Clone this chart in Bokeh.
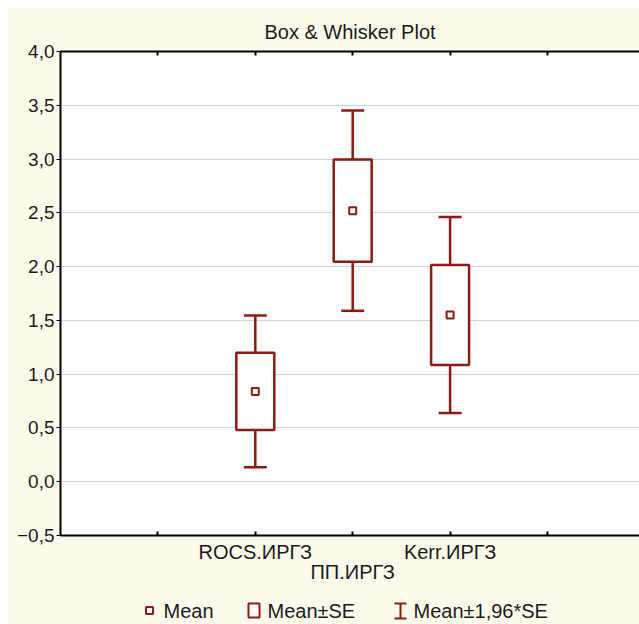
import numpy as np
from bokeh.plotting import figure
from bokeh.models import Range1d, LinearAxis, FixedTicker, Grid, Title
from bokeh.layouts import column
from bokeh.embed import file_html
from bokeh.resources import INLINE
from bokeh.core.properties import value

# ---- data ----
categories = ["ROCS.ИРГЗ", "ПП.ИРГЗ", "Kerr.ИРГЗ"]
means = [0.84, 2.52, 1.55]
se = [0.36, 0.475, 0.465]
y_ticks = [-0.5, 0.0, 0.5, 1.0, 1.5, 2.0, 2.5, 3.0, 3.5, 4.0]
y_tick_labels = ["−0,5", "0,0", "0,5", "1,0", "1,5", "2,0", "2,5", "3,0", "3,5", "4,0"]
x_ticks = [1, 2, 3, 4, 5]
legend_labels = ["Mean", "Mean±SE", "Mean±1,96*SE"]
title_text = "Box & Whisker Plot"

# ---- style ----
RED = "#8C1B12"
CREAM = "#FEFBEC"
FONT = "Liberation Sans"
TXT = "#1a1a1a"
W = 631
H_MAIN = 584
H_LEG = 32
FL = 52            # frame left
FRAME_TOP = 43
FRAME_BOTTOM = 527
PX_X = 97.4        # pixels per x unit

x = np.arange(len(categories)) + 2.0
m = np.array(means)
s = np.array(se)
se_hi, se_lo = m + s, m - s
ci_hi, ci_lo = m + 1.96 * s, m - 1.96 * s

xr = Range1d(0, (W - FL) / PX_X)
p = figure(width=W, height=H_MAIN, x_range=xr, y_range=Range1d(-0.5, 4.0),
           x_axis_type=None, y_axis_type=None,
           output_backend="svg", toolbar_location=None,
           min_border_left=FL, min_border_right=0,
           min_border_top=FRAME_TOP, min_border_bottom=H_MAIN - FRAME_BOTTOM,
           background_fill_color="white", border_fill_color=CREAM,
           outline_line_color=None)

yt = FixedTicker(ticks=y_ticks)
left = LinearAxis(ticker=yt,
                  major_label_overrides={t: l for t, l in zip(y_ticks, y_tick_labels)},
                  major_tick_in=0, major_tick_out=4, minor_tick_out=0, minor_tick_in=0,
                  axis_line_width=2, axis_line_color="black",
                  major_tick_line_color="black", major_tick_line_width=1,
                  major_label_text_font=FONT, major_label_text_font_size="19px",
                  major_label_text_color=TXT, major_label_standoff=2)
p.add_layout(left, "left")

top = LinearAxis(ticker=FixedTicker(ticks=x_ticks),
                 major_label_overrides={t: "" for t in x_ticks},
                 major_label_text_font_size="0px", major_label_standoff=0,
                 major_tick_in=4, major_tick_out=0, minor_tick_in=0, minor_tick_out=0,
                 axis_line_width=2, axis_line_color="black",
                 major_tick_line_color="black", major_tick_line_width=2)
p.add_layout(top, "above")

# bottom axis: staggered rows of category labels
row1 = {t: "" for t in x_ticks}
row2 = {}
for i, (xi, cat) in enumerate(zip(x, categories)):
    if i % 2 == 0:
        row1[int(xi)] = cat
    else:
        row2[int(xi)] = cat
bottom = LinearAxis(ticker=FixedTicker(ticks=x_ticks), major_label_overrides=row1,
                    major_label_text_font=FONT, major_label_text_font_size="20px",
                    major_label_text_color=TXT, major_label_standoff=5,
                    major_tick_in=4, major_tick_out=0, minor_tick_in=0, minor_tick_out=0,
                    axis_line_width=2, axis_line_color="black",
                    major_tick_line_color="black", major_tick_line_width=2)
p.add_layout(bottom, "below")
bottom2 = LinearAxis(ticker=FixedTicker(ticks=list(row2.keys())), major_label_overrides=row2,
                     major_label_text_font=FONT, major_label_text_font_size="20px",
                     major_label_text_color=TXT, major_label_standoff=-5,
                     axis_line_color=None, major_tick_line_color=None,
                     minor_tick_line_color=None, major_tick_in=0, major_tick_out=0)
p.add_layout(bottom2, "below")

p.add_layout(Title(text=title_text, align="center", text_font=FONT,
                   text_font_size="20px", text_font_style="normal",
                   text_color=TXT, standoff=17), "above")

p.add_layout(Grid(dimension=1, ticker=yt, grid_line_color="#D0D0D0", grid_line_width=1))

# whiskers
p.segment(x0=x, y0=se_hi, x1=x, y1=ci_hi, line_color=RED, line_width=2.5)
p.segment(x0=x, y0=ci_lo, x1=x, y1=se_lo, line_color=RED, line_width=2.5)
cap = 0.118
p.segment(x0=x - cap, y0=ci_hi, x1=x + cap, y1=ci_hi, line_color=RED, line_width=2.5)
p.segment(x0=x - cap, y0=ci_lo, x1=x + cap, y1=ci_lo, line_color=RED, line_width=2.5)
# boxes
bw = 0.195
p.quad(left=x - bw, right=x + bw, top=se_hi, bottom=se_lo,
       fill_color="white", line_color=RED, line_width=2.5)
# means
p.scatter(x=x, y=m, marker="square", size=7, fill_color="white",
          line_color=RED, line_width=2)

# ---- legend (frame is aligned with the main frame, shares x range) ----
def px(v):
    return (v - FL) / PX_X

leg = figure(width=W, height=H_LEG, x_range=xr, y_range=Range1d(0, H_LEG),
             x_axis_type=None, y_axis_type=None, output_backend="svg",
             toolbar_location=None, min_border=0, outline_line_color=None,
             background_fill_color=CREAM, border_fill_color=CREAM)
ly = 14
leg.scatter(x=[px(141)], y=[ly], marker="square", size=7, fill_color="white",
            line_color=RED, line_width=2)
leg.quad(left=[px(240)], right=[px(251)], bottom=[ly - 7], top=[ly + 7],
         fill_color="white", line_color=RED, line_width=2)
leg.segment(x0=[px(392)], y0=[ly - 8], x1=[px(392)], y1=[ly + 7], line_color=RED, line_width=2)
leg.segment(x0=[px(386), px(386)], y0=[ly - 8, ly + 7], x1=[px(398), px(398)], y1=[ly - 8, ly + 7],
            line_color=RED, line_width=2)
leg.text(x=[px(155), px(259), px(405)], y=[ly, ly, ly], text=legend_labels,
         text_baseline="middle", text_align="left",
         text_font=value(FONT), text_font_size="20px", text_color=TXT)

layout = column(p, leg, spacing=0, margin=(8, 0, 0, 8),
                styles={"background-color": CREAM})
open("out.html", "w").write(file_html(layout, INLINE))
